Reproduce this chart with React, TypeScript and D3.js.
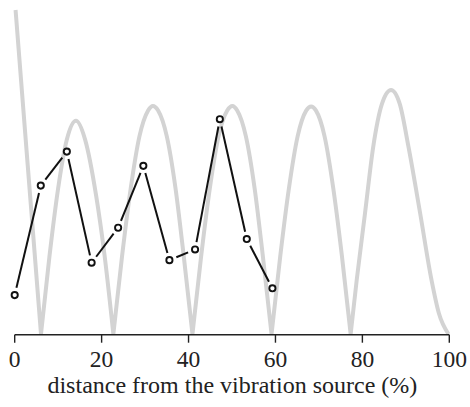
import React from "react";
import * as d3 from "d3";

// Gray reference curve (distance %, relative amplitude)
const grayX = [
  0.2, 3.0, 6.05,
  8.0, 10.0, 12.0, 14.1, 16.2, 18.7, 20.7, 22.7,
  24.7, 26.7, 28.7, 30.7, 31.8, 33.0, 35.0, 37.0, 38.9, 40.9,
  42.9, 44.9, 46.9, 48.9, 50.1, 51.2, 53.2, 55.2, 57.1, 59.1,
  61.1, 63.1, 65.1, 67.1, 68.2, 69.3, 71.3, 73.3, 75.3, 77.3,
  78.7, 80.6, 82.5, 84.5, 86.6, 88.6, 90.6, 93.3, 95.9, 97.6, 99.8,
];
const grayY = [
  1.0, 0.52, 0,
  0.24, 0.45, 0.6, 0.658, 0.6, 0.43, 0.24, 0,
  0.24, 0.45, 0.61, 0.69, 0.704, 0.69, 0.61, 0.45, 0.24, 0,
  0.24, 0.45, 0.61, 0.69, 0.704, 0.69, 0.61, 0.45, 0.24, 0,
  0.24, 0.45, 0.61, 0.69, 0.702, 0.69, 0.61, 0.45, 0.24, 0,
  0.167, 0.372, 0.578, 0.71, 0.753, 0.71, 0.578, 0.372, 0.167, 0.064, 0,
];

// Measured points
const markX = [0, 6.0, 12.0, 17.7, 23.8, 29.6, 35.6, 41.5, 47.2, 53.4, 59.3];
const markY = [0.12, 0.458, 0.563, 0.22, 0.328, 0.519, 0.228, 0.261, 0.663, 0.293, 0.141];

const xTicks = [0, 20, 40, 60, 80, 100];
const xTitle = "distance from the vibration source (%)";

export default function App() {
  const W = 470;
  const H = 407;
  const x = d3.scaleLinear().domain([0, 100]).range([14.7, 449.3]);
  const y = d3.scaleLinear().domain([0, 1]).range([334, 10]);
  const axisY = 334.7;

  // split gray curve into arches at zero points
  const arches: [number, number][][] = [];
  let cur: [number, number][] = [];
  grayX.forEach((gx, i) => {
    const p: [number, number] = [gx, grayY[i]];
    cur.push(p);
    if (grayY[i] === 0 && cur.length > 1) {
      arches.push(cur);
      cur = [p];
    }
  });
  if (cur.length > 1) arches.push(cur);

  const line = d3
    .line<[number, number]>()
    .x((d) => x(d[0]))
    .y((d) => y(d[1]))
    .curve(d3.curveMonotoneX);
  const grayPath = arches.map((a) => line(a)).join("");

  const pts = markX.map((mx, i) => [x(mx), y(markY[i])]);
  const gap = 7.5;
  const segs = pts.slice(1).map((p, i) => {
    const a = pts[i];
    const dx = p[0] - a[0];
    const dy = p[1] - a[1];
    const L = Math.hypot(dx, dy);
    const ux = dx / L;
    const uy = dy / L;
    return [a[0] + ux * gap, a[1] + uy * gap, p[0] - ux * gap, p[1] - uy * gap];
  });

  const font = "'Liberation Serif', 'Times New Roman', serif";

  return (
    <svg
      width={W}
      height={H}
      style={{ position: "absolute", left: 0, top: 0, background: "#fff" }}
    >
      <path d={grayPath} fill="none" stroke="#d3d3d3" strokeWidth={4} strokeLinejoin="round" />
      {segs.map((s, i) => (
        <line key={i} x1={s[0]} y1={s[1]} x2={s[2]} y2={s[3]} stroke="#111" strokeWidth={2} />
      ))}
      {pts.map((p, i) => (
        <circle key={i} cx={p[0]} cy={p[1]} r={3.1} fill="#fff" stroke="#111" strokeWidth={1.9} />
      ))}
      <line x1={x(0)} x2={x(100)} y1={axisY} y2={axisY} stroke="#222" strokeWidth={1.4} />
      {xTicks.map((t) => (
        <g key={t}>
          <line x1={x(t)} x2={x(t)} y1={axisY} y2={axisY + 8} stroke="#222" strokeWidth={1.4} />
          <text
            x={x(t)}
            y={366.5}
            textAnchor="middle"
            fontFamily={font}
            fontSize={23.5}
            fill="#222"
          >
            {t}
          </text>
        </g>
      ))}
      <text
        x={232.4}
        y={392.5}
        textAnchor="middle"
        fontFamily={font}
        fontSize={24}
        fill="#222"
      >
        {xTitle}
      </text>
    </svg>
  );
}
